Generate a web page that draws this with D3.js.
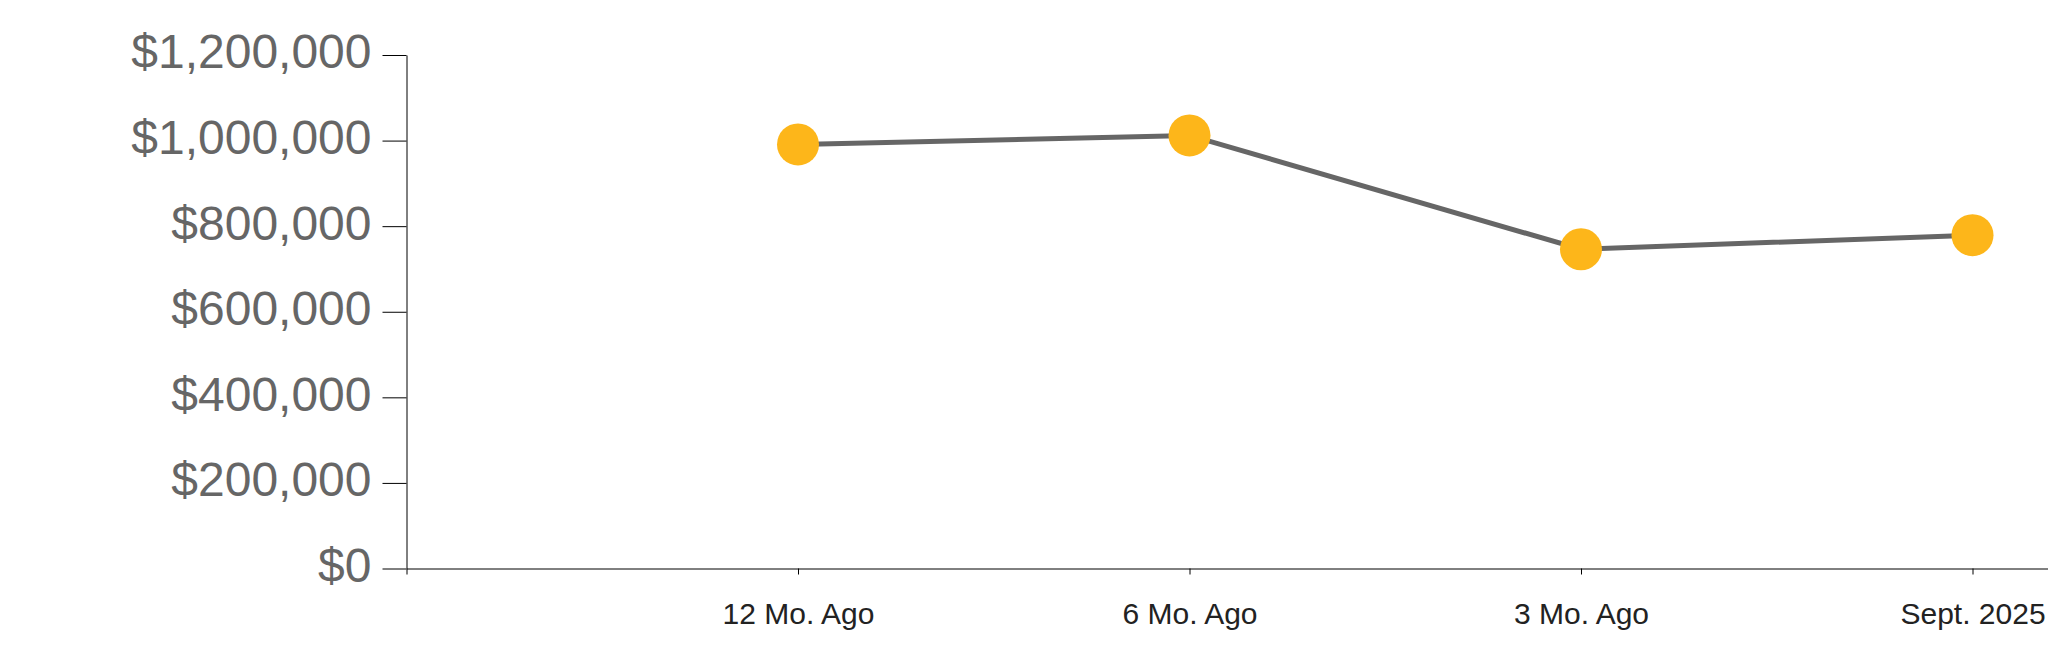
<!DOCTYPE html>
<html>
<head>
<meta charset="utf-8">
<script src="https://cdn.jsdelivr.net/npm/d3@7"></script>
<style>
  html, body { margin: 0; padding: 0; background: #fff; overflow: hidden; }
  svg { display: block; }
</style>
</head>
<body>
<svg id="chart" width="2048" height="663"></svg>
<script>
const categories = ["12 Mo. Ago", "6 Mo. Ago", "3 Mo. Ago", "Sept. 2025"];
const values = [991000, 1012000, 746000, 779000];
const yTicks = [0, 200000, 400000, 600000, 800000, 1000000, 1200000];

const svg = d3.select("#chart");
const plotLeft = 406.5, plotTop = 55, plotBottom = 568.5;

const x = d3.scalePoint()
  .domain(categories)
  .range([plotLeft, plotLeft + 391.5 * 5])
  .padding(1);

const y = d3.scaleLinear()
  .domain([0, 1200000])
  .range([plotBottom, plotTop]);

const fmt = d3.format("$,.0f");

// Y axis
const yAxis = svg.append("g")
  .attr("transform", `translate(${plotLeft},0)`)
  .call(d3.axisLeft(y).tickValues(yTicks).tickFormat(fmt).tickSize(24).tickSizeOuter(0).tickPadding(11));
yAxis.select(".domain").attr("stroke", "#000").attr("stroke-width", 1);
yAxis.selectAll(".tick line").attr("stroke", "#000");
yAxis.selectAll(".tick text")
  .attr("fill", "#666")
  .attr("font-family", "Liberation Sans, Arial, sans-serif")
  .attr("font-size", 48)
  .attr("dy", "0.27em");

// X axis
const xAxis = svg.append("g")
  .attr("transform", `translate(0,${plotBottom})`)
  .call(d3.axisBottom(x).tickSize(6).tickSizeOuter(6).tickPadding(28));
xAxis.select(".domain").attr("stroke", "#000").attr("stroke-width", 1);
xAxis.selectAll(".tick line").attr("stroke", "#000");
xAxis.selectAll(".tick text")
  .attr("fill", "#222")
  .attr("font-family", "Liberation Sans, Arial, sans-serif")
  .attr("font-size", 30);

const data = categories.map((c, i) => ({ c, v: values[i] }));

svg.append("path")
  .datum(data)
  .attr("fill", "none")
  .attr("stroke", "#666666")
  .attr("stroke-width", 5)
  .attr("d", d3.line().x(d => x(d.c)).y(d => y(d.v)));

svg.append("g")
  .selectAll("circle")
  .data(data)
  .join("circle")
  .attr("cx", d => x(d.c))
  .attr("cy", d => y(d.v))
  .attr("r", 21)
  .attr("fill", "#FDB61A");
</script>
</body>
</html>
